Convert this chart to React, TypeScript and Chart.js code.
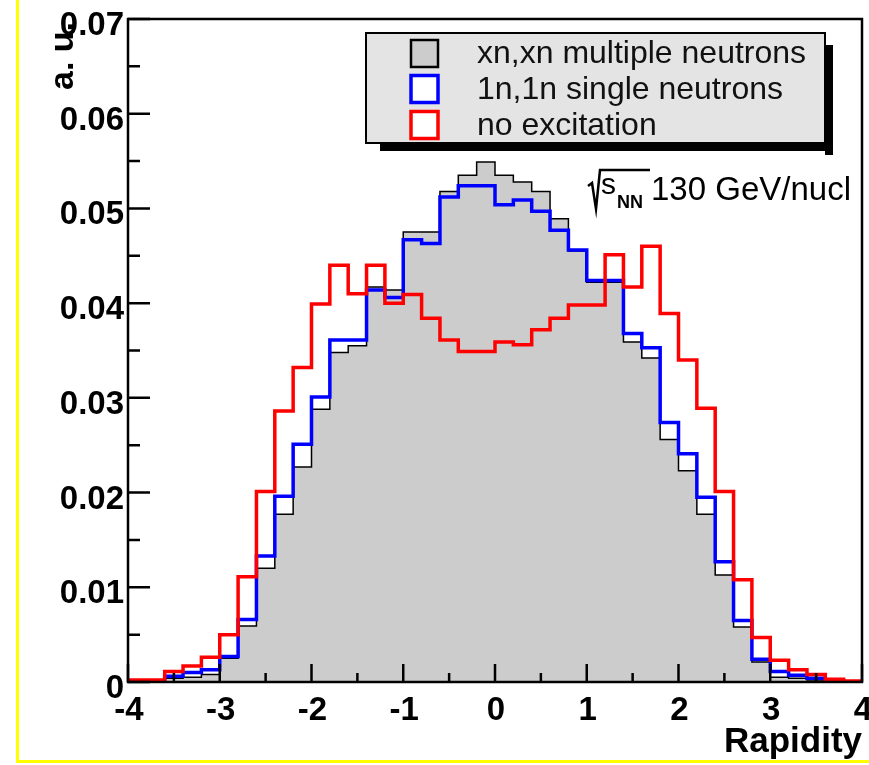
import React, { useEffect, useRef } from 'react';
import { Chart, registerables } from 'chart.js';

Chart.register(...registerables);

// ---- data ----
const binLow = [
  -4.0, -3.8, -3.6, -3.4, -3.2, -3.0, -2.8, -2.6, -2.4, -2.2,
  -2.0, -1.8, -1.6, -1.4, -1.2, -1.0, -0.8, -0.6, -0.4, -0.2,
  0.0, 0.2, 0.4, 0.6, 0.8, 1.0, 1.2, 1.4, 1.6, 1.8,
  2.0, 2.2, 2.4, 2.6, 2.8, 3.0, 3.2, 3.4, 3.6, 3.8,
];
const xMax = 4.0;

const xnxnValues = [
  0.0, 0.0001, 0.0004, 0.0005, 0.0008, 0.0025, 0.0059, 0.012, 0.0177, 0.0227,
  0.0288, 0.0348, 0.0355, 0.0417, 0.0414, 0.0475, 0.0475, 0.0518, 0.0535, 0.0549,
  0.0535, 0.0528, 0.0518, 0.0489, 0.0455, 0.0422, 0.0422, 0.0359, 0.0342, 0.0256,
  0.0223, 0.0177, 0.0113, 0.0058, 0.0021, 0.0005, 0.0004, 0.0002, 0.0001, 0.0,
];

const oneNValues = [
  0.0, 0.0001, 0.0006, 0.001, 0.0013, 0.0027, 0.0066, 0.0133, 0.0196, 0.0251,
  0.0301, 0.0361, 0.0361, 0.0414, 0.0406, 0.0467, 0.0463, 0.0512, 0.0524, 0.0524,
  0.0504, 0.0509, 0.0497, 0.0477, 0.0456, 0.0424, 0.0424, 0.0368, 0.0353, 0.0274,
  0.0241, 0.0195, 0.0127, 0.0065, 0.0024, 0.0011, 0.0007, 0.0004, 0.0001, 0.0,
];

const noExcValues = [
  0.0002, 0.0002, 0.0011, 0.0017, 0.0026, 0.005, 0.0111, 0.0201, 0.0286, 0.0332,
  0.0399, 0.044, 0.041, 0.044, 0.04, 0.0409, 0.0384, 0.0361, 0.0349, 0.0349,
  0.0359, 0.0356, 0.0372, 0.0384, 0.0398, 0.0398, 0.0451, 0.0417, 0.046, 0.0389,
  0.034, 0.0289, 0.0201, 0.0108, 0.0047, 0.0023, 0.0013, 0.0008, 0.0003, 0.0001,
];

const seriesNames = ['xn,xn multiple neutrons', '1n,1n single neutrons', 'no excitation'];

const xTickValues = [-4, -3, -2, -1, 0, 1, 2, 3, 4];
const xTickLabels = ['-4', '-3', '-2', '-1', '0', '1', '2', '3', '4'];
const xMinorTicks = [-3.5, -2.5, -1.5, -0.5, 0.5, 1.5, 2.5, 3.5];

const yTickValues = [0, 0.01, 0.02, 0.03, 0.04, 0.05, 0.06, 0.07];
const yTickLabels = ['0', '0.01', '0.02', '0.03', '0.04', '0.05', '0.06', '0.07'];
const yMinorTicks = [0.005, 0.015, 0.025, 0.035, 0.045, 0.055, 0.065];

const xAxisTitle = 'Rapidity';
const yAxisTitle = 'a. u.';
const energyText = '130 GeV/nucl';

const FONT = '"Liberation Sans", Arial, Helvetica, sans-serif';

function toPoints(vals: number[]) {
  const pts = binLow.map((x, i) => ({ x, y: vals[i] }));
  pts.push({ x: xMax, y: vals[vals.length - 1] });
  return pts;
}

const decorPlugin = {
  id: 'decor',
  beforeDraw(chart: any) {
    const ctx = chart.ctx;
    ctx.save();
    ctx.fillStyle = '#ffffff';
    ctx.fillRect(0, 0, chart.width, chart.height);
    ctx.restore();
  },
  afterDatasetsDraw(chart: any) {
    const ctx = chart.ctx as CanvasRenderingContext2D;
    const { left, right, top, bottom } = chart.chartArea;
    const xs = chart.scales.x;
    const ys = chart.scales.y;
    ctx.save();
    ctx.strokeStyle = '#000';
    ctx.lineWidth = 2.5;
    ctx.lineCap = 'butt';
    // frame
    ctx.strokeRect(left, top, right - left, bottom - top);
    // y ticks
    ctx.beginPath();
    yTickValues.forEach((v) => {
      const py = ys.getPixelForValue(v);
      ctx.moveTo(left, py);
      ctx.lineTo(left + 22, py);
    });
    yMinorTicks.forEach((v) => {
      const py = ys.getPixelForValue(v);
      ctx.moveTo(left, py);
      ctx.lineTo(left + 12, py);
    });
    // x ticks
    xTickValues.forEach((v) => {
      const px = xs.getPixelForValue(v);
      ctx.moveTo(px, bottom);
      ctx.lineTo(px, bottom - 18);
    });
    xMinorTicks.forEach((v) => {
      const px = xs.getPixelForValue(v);
      ctx.moveTo(px, bottom);
      ctx.lineTo(px, bottom - 9);
    });
    ctx.stroke();

    // tick labels
    ctx.fillStyle = '#000';
    ctx.font = `bold 33px ${FONT}`;
    ctx.textAlign = 'right';
    ctx.textBaseline = 'alphabetic';
    yTickValues.forEach((v, i) => {
      const py = ys.getPixelForValue(v);
      ctx.fillText(yTickLabels[i], left - 4, py + 16);
    });
    ctx.textAlign = 'center';
    xTickValues.forEach((v, i) => {
      const px = xs.getPixelForValue(v);
      ctx.fillText(xTickLabels[i], px + 1, bottom + 38);
    });

    // axis titles
    ctx.font = `bold 35px ${FONT}`;
    ctx.textAlign = 'right';
    ctx.fillText(xAxisTitle, right, 752);
    ctx.save();
    ctx.translate(73, 90);
    ctx.rotate(-Math.PI / 2);
    ctx.textAlign = 'left';
    ctx.font = `bold 34px ${FONT}`;
    ctx.fillText(yAxisTitle, 0, 0);
    ctx.restore();
    ctx.restore();
  },
  afterDraw(chart: any) {
    const ctx = chart.ctx as CanvasRenderingContext2D;
    ctx.save();
    // yellow page border
    ctx.fillStyle = '#ffff00';
    ctx.fillRect(16, 0, 3, 763);
    ctx.fillRect(16, 760, 853, 3);

    // legend box with shadow
    const lx = 366, ly = 33, lw = 459, lh = 110;
    ctx.fillStyle = '#000';
    ctx.fillRect(lx + lw, ly + 12, 8, lh);
    ctx.fillRect(lx + 14, ly + lh, lw - 6, 8);
    ctx.fillStyle = '#e4e4e4';
    ctx.fillRect(lx, ly, lw, lh);
    ctx.strokeStyle = '#000';
    ctx.lineWidth = 2;
    ctx.strokeRect(lx, ly, lw, lh);

    const rowsY = [53.5, 89, 125];
    const mk = [
      { fill: '#cccccc', stroke: '#000000', w: 2.5 },
      { fill: '#ffffff', stroke: '#0000ff', w: 3.5 },
      { fill: '#ffffff', stroke: '#ff0000', w: 3.5 },
    ];
    rowsY.forEach((cy, i) => {
      const s = 27;
      ctx.fillStyle = mk[i].fill;
      ctx.fillRect(424.5 - s / 2, cy - s / 2, s, s);
      ctx.strokeStyle = mk[i].stroke;
      ctx.lineWidth = mk[i].w;
      ctx.strokeRect(424.5 - s / 2, cy - s / 2, s, s);
      ctx.fillStyle = '#111';
      ctx.font = `32px ${FONT}`;
      ctx.textAlign = 'left';
      ctx.textBaseline = 'middle';
      ctx.fillText(seriesNames[i], 477, cy + 1);
    });

    // sqrt(s_NN) 130 GeV/nucl
    ctx.strokeStyle = '#000';
    ctx.lineWidth = 2.5;
    ctx.lineJoin = 'miter';
    ctx.beginPath();
    ctx.moveTo(588, 186);
    ctx.lineTo(592, 183);
    ctx.lineTo(596, 209);
    ctx.lineTo(600, 170);
    ctx.lineTo(650, 170);
    ctx.stroke();
    ctx.fillStyle = '#000';
    ctx.textAlign = 'left';
    ctx.textBaseline = 'alphabetic';
    ctx.font = `30px ${FONT}`;
    ctx.fillText('s', 601, 194);
    ctx.font = `bold 18px ${FONT}`;
    ctx.fillText('NN', 617, 208);
    ctx.font = `33px ${FONT}`;
    ctx.fillText(energyText, 651, 200);
    ctx.restore();
  },
};

export default function App() {
  const canvasRef = useRef<HTMLCanvasElement | null>(null);

  useEffect(() => {
    document.body.style.margin = '0';
    const canvas = canvasRef.current;
    if (!canvas) return;
    const chart = new Chart(canvas, {
      type: 'line',
      data: {
        datasets: [
          {
            label: seriesNames[2],
            data: toPoints(noExcValues),
            stepped: 'before',
            borderColor: '#ff0000',
            borderWidth: 3.5,
            pointRadius: 0,
            fill: false,
            order: 0,
            borderJoinStyle: 'miter',
          },
          {
            label: seriesNames[1],
            data: toPoints(oneNValues),
            stepped: 'before',
            borderColor: '#0000ff',
            borderWidth: 3.5,
            pointRadius: 0,
            fill: false,
            order: 1,
            borderJoinStyle: 'miter',
          },
          {
            label: seriesNames[0],
            data: toPoints(xnxnValues),
            stepped: 'before',
            borderColor: '#000000',
            backgroundColor: '#cccccc',
            borderWidth: 1.5,
            pointRadius: 0,
            fill: 'origin',
            order: 2,
            borderJoinStyle: 'miter',
          },
        ],
      } as any,
      options: {
        responsive: false,
        animation: false,
        layout: { padding: { left: 128, right: 7, top: 19, bottom: 83 } },
        plugins: {
          legend: { display: false },
          tooltip: { enabled: false },
        },
        scales: {
          x: { type: 'linear', min: -4, max: 4, display: false },
          y: { type: 'linear', min: 0, max: 0.07, display: false },
        },
      },
      plugins: [decorPlugin],
    });
    return () => chart.destroy();
  }, []);

  return (
    <div style={{ width: 869, height: 765, position: 'relative' }}>
      <canvas ref={canvasRef} width={869} height={765} style={{ display: 'block' }} />
    </div>
  );
}
